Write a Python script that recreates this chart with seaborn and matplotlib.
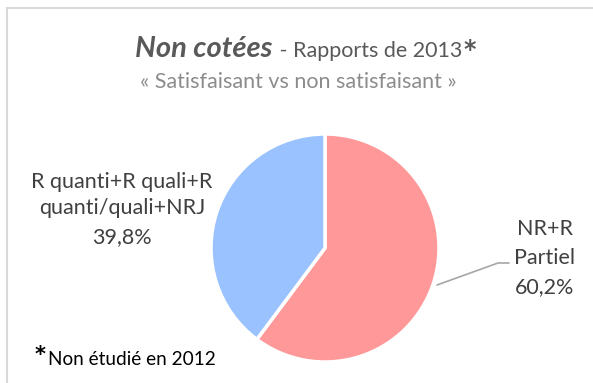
import matplotlib
matplotlib.use("Agg")
import matplotlib.pyplot as plt
import seaborn as sns
from matplotlib.lines import Line2D

# Data
categories = [["NR+R", "Partiel"], ["R quanti+R quali+R", "quanti/quali+NRJ"]]
values = [60.2, 39.8]
colors = ["#FF9999", "#99C2FF"]

sns.set_theme(style="white")
plt.rcParams["font.family"] = ["Lato", "DejaVu Sans"]

W, H = 593, 383
fig = plt.figure(figsize=(W / 100, H / 100), dpi=100)
fig.patch.set_facecolor("white")

def px(x, y):
    return x / W, 1 - y / H

# frame lines (top and left)
fig.add_artist(Line2D([px(7, 0)[0], 1], [px(0, 7.5)[1]] * 2, color="#d9d9d9", lw=1.5))
fig.add_artist(Line2D([px(7, 0)[0]] * 2, [px(0, 7.5)[1], 0], color="#d9d9d9", lw=1.5))

# pie axes
cx, cy, r = 325, 248, 114
ax = fig.add_axes([(cx - r) / W, (H - cy - r) / H, 2 * r / W, 2 * r / H])
wedges, _ = ax.pie(values, colors=colors, startangle=90, counterclock=False,
                   wedgeprops=dict(edgecolor="white", linewidth=2.5))
ax.set_xlim(-1, 1)
ax.set_ylim(-1, 1)
ax.set_aspect("equal")
ax.axis("off")

label_color = "#404040"
fs = 15.5

# titles
title_main = fig.text(*px(135, 57), "Non cotées", fontsize=21, fontweight="bold",
                      fontstyle="italic", color="#595959", va="baseline", ha="left")
fig.canvas.draw()
bb = title_main.get_window_extent()
title_rest = fig.text((bb.x1 + 2) / W, px(0, 57)[1], " - Rapports de 2013", fontsize=fs,
                      color="#595959", va="baseline", ha="left")
fig.canvas.draw()
bb2 = title_rest.get_window_extent()
fig.text((bb2.x1 + 1) / W, px(0, 57)[1], "*", fontsize=17, fontweight="bold",
         family="DejaVu Sans", color="#595959", va="baseline", ha="left")

fig.text(*px(298, 88), "« Satisfaisant vs non satisfaisant »", fontsize=fs, color="#8c8c8c",
         ha="center", va="baseline")

def pct(v):
    return f"{v:.1f}%".replace(".", ",")

# slice labels
for line, yb in zip(categories[1] + [pct(values[1])], [188, 214, 243]):
    fig.text(*px(122, yb), line, fontsize=fs, color=label_color, ha="center", va="baseline")
for line, yb in zip(categories[0] + [pct(values[0])], [235, 264, 293]):
    fig.text(*px(545, yb), line, fontsize=fs, color=label_color, ha="center", va="baseline")

# leader line for the red slice
fig.add_artist(Line2D([px(437, 0)[0], px(498, 0)[0], px(509, 0)[0]],
                      [px(0, 285)[1], px(0, 263)[1], px(0, 263)[1]],
                      color="#a6a6a6", lw=1.2))

# footnote
fig.text(*px(35, 361), "*", fontsize=15, fontweight="bold", family="DejaVu Sans",
         color="black", ha="left", va="baseline")
fig.text(*px(48, 365), "Non étudié en 2012", fontsize=13.7, color="black", ha="left", va="baseline")

fig.savefig("out.png", dpi=100, facecolor="white")
